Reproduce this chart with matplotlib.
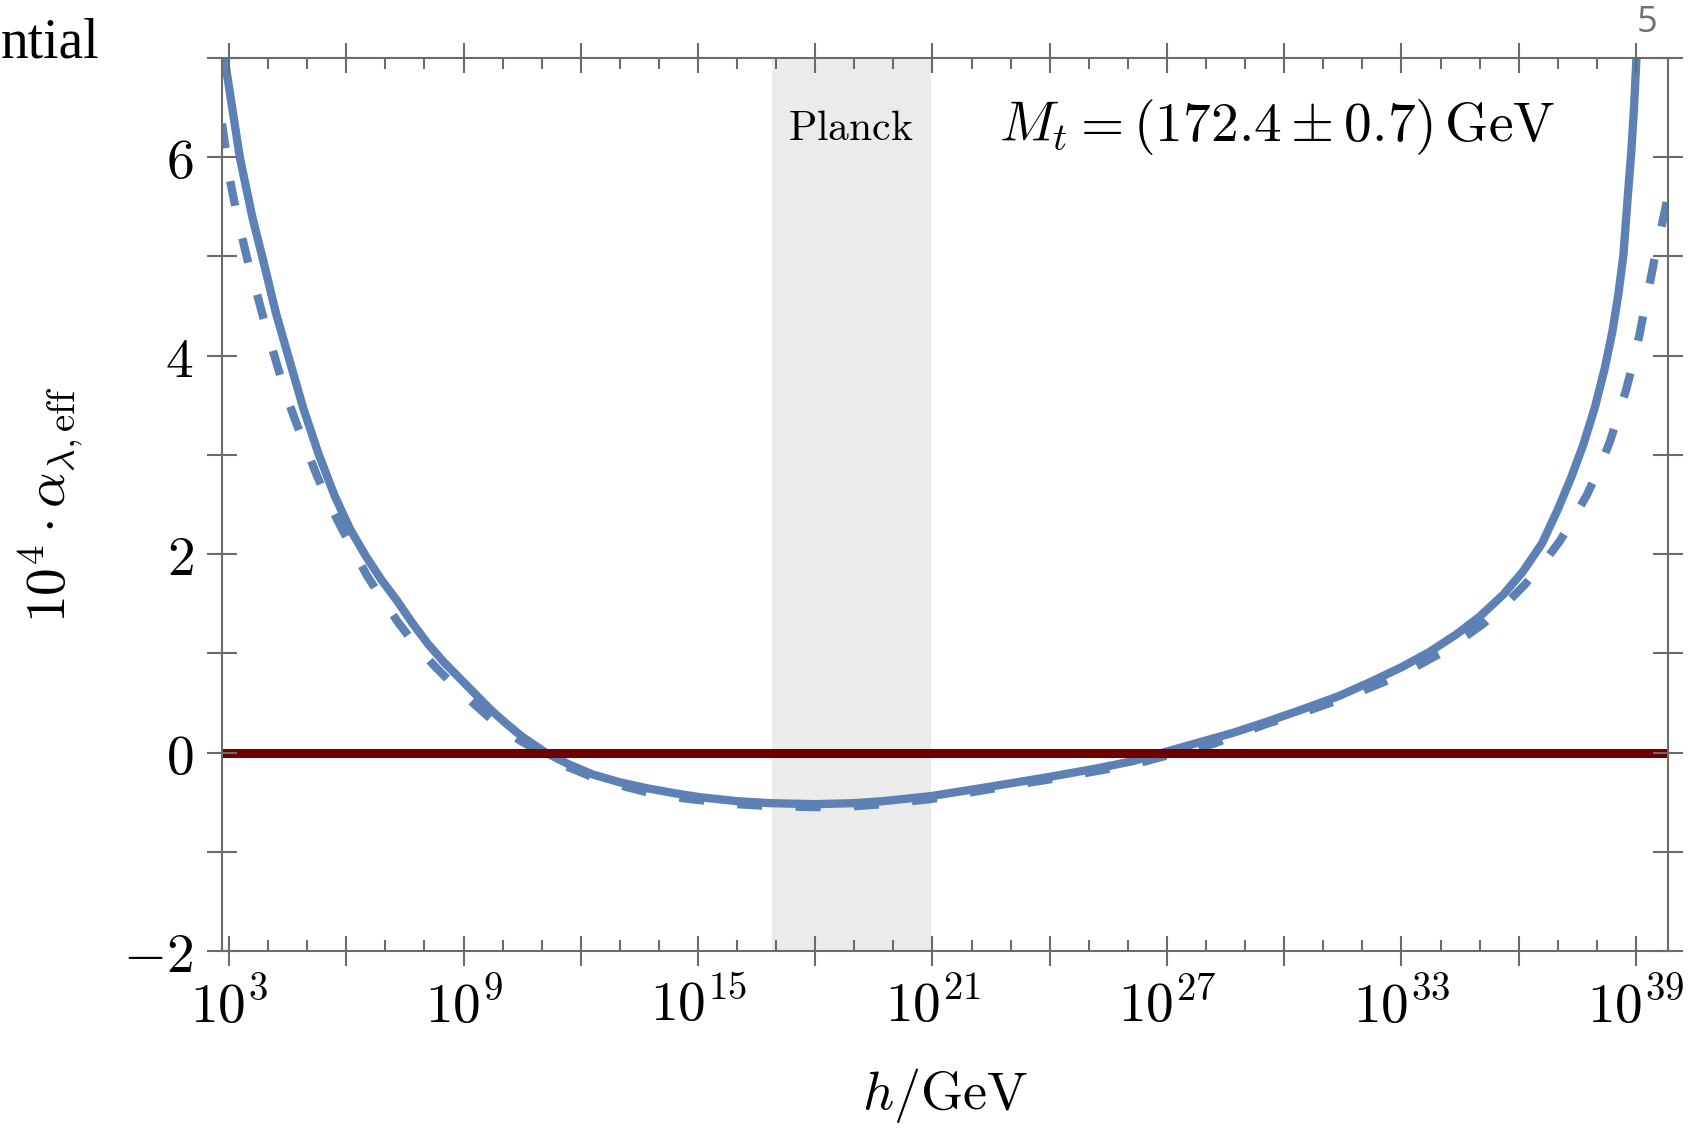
import matplotlib
matplotlib.use("Agg")
import matplotlib.pyplot as plt
import numpy as np
from matplotlib.ticker import FixedLocator, FuncFormatter

plt.rcParams["mathtext.fontset"] = "cm"

# data (x in log10(h/GeV), y = 10^4 alpha_eff)
solid_logh = [2.82, 2.90, 3.28, 3.60, 3.88, 4.20, 4.52, 4.90, 5.29, 5.70, 6.10, 6.50,
              6.90, 7.30, 7.70, 8.10, 8.50, 8.90, 9.30, 9.70, 10.10, 10.50, 11.10,
              11.70, 12.30, 13.00, 13.70, 14.40, 15.05, 16.00, 16.84, 18.00, 19.00,
              19.74, 20.94, 22.30, 24.00, 25.20, 26.14, 26.90, 27.80, 28.70, 29.55,
              30.50, 31.40, 32.20, 33.00, 33.70, 34.40, 35.00, 35.60, 36.10, 36.60,
              37.00, 37.35, 37.65, 37.95, 38.20, 38.40, 38.55, 38.68, 38.79, 38.88,
              38.95, 39.00, 39.06]
solid_val = [7.18, 6.96, 5.99, 5.39, 4.95, 4.43, 3.99, 3.47, 3.01, 2.59, 2.25, 1.98,
             1.74, 1.53, 1.30, 1.09, 0.91, 0.75, 0.59, 0.43, 0.29, 0.16, 0.0,
             -0.12, -0.22, -0.30, -0.36, -0.41, -0.45, -0.49, -0.51, -0.52, -0.51,
             -0.49, -0.44, -0.355, -0.245, -0.16, -0.085, 0.0, 0.10, 0.20, 0.31,
             0.44, 0.57, 0.71, 0.86, 1.01, 1.19, 1.37, 1.59, 1.82, 2.11,
             2.45, 2.78, 3.10, 3.48, 3.87, 4.25, 4.62, 5.02, 5.60, 6.05,
             6.50, 6.90, 7.40]

dash_logh = [2.82, 3.03, 3.18, 3.33, 3.50, 3.69, 3.88, 4.07, 4.28, 4.49, 4.74, 4.99,
             5.26, 5.54, 5.84, 6.14, 6.52, 6.91, 7.33, 7.76, 8.24, 8.74, 9.27, 9.81,
             10.45, 11.13, 11.70, 12.32, 13.00, 13.69, 14.40, 15.05, 16.00, 16.84,
             18.04, 19.00, 19.74, 20.94, 22.30, 23.20, 24.00, 25.00, 26.14, 27.00,
             28.20, 29.55, 30.60, 31.68, 32.60, 33.39, 34.00, 34.50, 35.10, 35.65,
             36.15, 36.63, 37.05, 37.40, 37.75, 38.08, 38.33, 38.55, 38.75, 38.93,
             39.09, 39.23, 39.38, 39.51, 39.67, 39.82]
dash_val = [6.34, 5.76, 5.46, 5.20, 4.92, 4.66, 4.38, 4.12, 3.84, 3.57, 3.30, 3.05,
            2.78, 2.53, 2.29, 2.07, 1.79, 1.55, 1.31, 1.09, 0.88, 0.68, 0.49, 0.30,
            0.12, -0.03, -0.15, -0.25, -0.33, -0.40, -0.45, -0.48, -0.52, -0.54,
            -0.55, -0.54, -0.52, -0.47, -0.38, -0.32, -0.27, -0.20, -0.12, -0.03,
            0.09, 0.29, 0.42, 0.57, 0.72, 0.87, 1.00, 1.13, 1.30, 1.49,
            1.69, 1.91, 2.13, 2.36, 2.60, 2.88, 3.13, 3.40, 3.66, 3.93,
            4.21, 4.50, 4.78, 5.05, 5.33, 5.61]

zero_level = 0.0
planck_band = (16.9, 20.95)
xlim_log = (2.82, 39.82)
ylim = (-2, 7)

blue = "#5e81b5"
darkred = "#6e0000"
gray = "#6b6b6b"

fig = plt.figure(figsize=(16.95, 11.48), dpi=100)
ax = fig.add_axes([222 / 1695, 197 / 1148, 1446 / 1695, 893 / 1148])

ax.axvspan(10 ** planck_band[0], 10 ** planck_band[1], color="#ebebeb", lw=0, zorder=0)
ax.plot(10 ** np.array(solid_logh), solid_val, color=blue, lw=6,
        solid_joinstyle="round", zorder=2)
ax.plot(10 ** np.array(dash_logh), dash_val, color=blue, lw=6, ls=(0, (3, 4)),
        dash_capstyle="butt", dash_joinstyle="round", zorder=2)
ax.axhline(zero_level, color=darkred, lw=6.5, zorder=2.2)

ax.set_xscale("log")
ax.set_xlim(10 ** xlim_log[0], 10 ** xlim_log[1])
ax.set_ylim(*ylim)

# ticks: majors every 3 decades (labels every 6), minors every decade
ax.xaxis.set_major_locator(FixedLocator([10.0 ** k for k in range(3, 40, 3)]))
ax.xaxis.set_minor_locator(FixedLocator([10.0 ** k for k in range(3, 40) if k % 3]))
ax.xaxis.set_major_formatter(FuncFormatter(
    lambda v, p: r"$10^{%d}$" % round(np.log10(v)) if (round(np.log10(v)) - 3) % 6 == 0 else ""))
ax.xaxis.set_minor_formatter(FuncFormatter(lambda v, p: ""))
ax.yaxis.set_major_locator(FixedLocator([-2, 0, 2, 4, 6]))
ax.yaxis.set_minor_locator(FixedLocator([-1, 1, 3, 5, 7]))
ax.yaxis.set_major_formatter(FuncFormatter(lambda v, p: r"$%d$" % v))

ax.tick_params(which="major", direction="inout", length=21, width=1.5, color=gray,
               top=True, right=True, labelsize=40)
ax.tick_params(axis="x", which="minor", direction="in", length=8, width=1.5, color=gray,
               top=True)
ax.tick_params(axis="y", which="minor", direction="inout", length=21, width=1.5,
               color=gray, right=True)
ax.tick_params(axis="x", which="major", pad=10)
ax.tick_params(axis="y", which="major", pad=10)
for s in ax.spines.values():
    s.set_color(gray)
    s.set_linewidth(1.5)
    s.set_zorder(3)
ax.set_axisbelow(False)

ax.set_xlabel(r"$h/\mathrm{GeV}$", fontsize=39, labelpad=22)
ax.set_ylabel(r"$10^4 \cdot \alpha_{\lambda,\mathrm{eff}}$", fontsize=40, labelpad=27)

fig.text(851 / 1695, 1 - 128 / 1148, r"$\mathrm{Planck}$", fontsize=30,
         ha="center", va="center")
fig.text(1277 / 1695, 1 - 127 / 1148, r"$M_t = (172.4 \pm 0.7)\,\mathrm{GeV}$",
         fontsize=40, ha="center", va="center")

# bits of the surrounding page that got cropped in
fig.text(1 / 1695, 1 - 58 / 1148, "ntial", fontsize=40, family="Liberation Serif",
         ha="left", va="baseline")
fig.text(1647 / 1695, 1 - 23 / 1148, "5", fontsize=26, family="Open Sans",
         color="#707070", ha="center", va="center")

fig.savefig("out.png", dpi=100)
